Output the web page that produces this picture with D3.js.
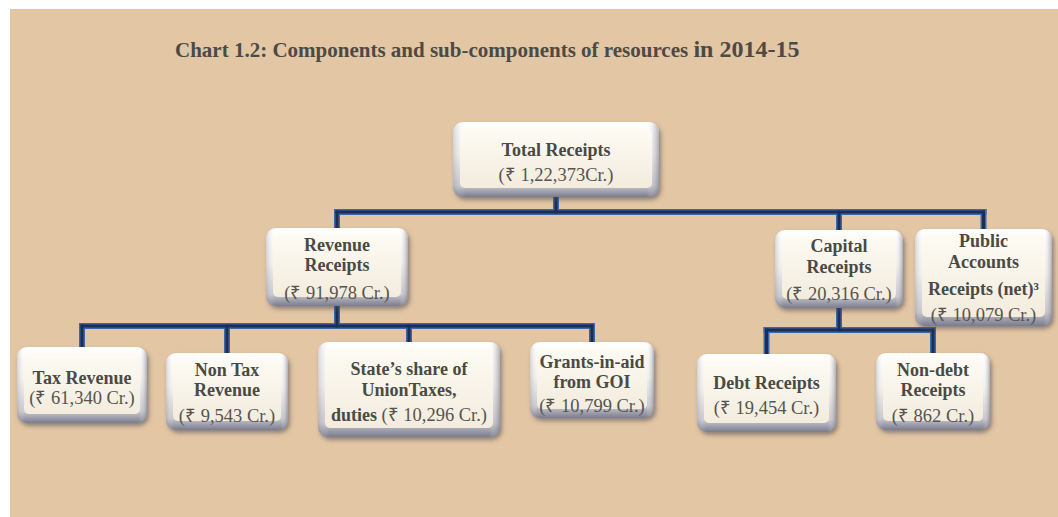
<!DOCTYPE html>
<html>
<head>
<meta charset="utf-8">
<script src="https://cdn.jsdelivr.net/npm/d3@7"></script>
<style>
  body { margin: 0; background: #fff; }
  svg { display: block; }
</style>
</head>
<body>
<div id="chart"></div>
<script>
// data
var nodeIds   = ["total", "revenue", "capital", "public", "tax", "nontax", "share", "grants", "debt", "nondebt"];
var parentIds = [null, "total", "total", "total", "revenue", "revenue", "revenue", "revenue", "capital", "capital"];
var labelLines = [
  ["Total Receipts"],
  ["Revenue", "Receipts"],
  ["Capital", "Receipts"],
  ["Public", "Accounts", "Receipts (net)\u00B3"],
  ["Tax Revenue"],
  ["Non Tax", "Revenue"],
  ["State\u2019s share of", "UnionTaxes,"],
  ["Grants-in-aid", "from GOI"],
  ["Debt Receipts"],
  ["Non-debt", "Receipts"]
];
var amountPrefix = ["", "", "", "", "", "", "duties ", "", "", ""];
var amountsCr = [122373, 91978, 20316, 10079, 61340, 9543, 10296, 10799, 19454, 862];
var title = "Chart 1.2: Components and sub-components of resources ";
var titleYear = "in 2014-15";

// layout (box edges, text baselines from box top, connector bus y)
var layout = {
  total:   { box: [453, 122, 659, 197], lines: [34, 59], bus: 212 },
  revenue: { box: [266, 228, 408, 306], lines: [23, 43, 71], bus: 326 },
  capital: { box: [775, 230, 903, 308], lines: [22, 43, 70], bus: 330 },
  public:  { box: [915, 229, 1052, 326], lines: [18, 39, 66, 92] },
  tax:     { box: [17, 347, 147, 423], lines: [37, 57] },
  nontax:  { box: [166, 353, 288, 430], lines: [23, 43, 69] },
  share:   { box: [318, 342, 500, 437], lines: [33, 54, 79] },
  grants:  { box: [530, 342, 654, 418], lines: [26, 46, 70] },
  debt:    { box: [697, 354, 836, 432], lines: [35, 60] },
  nondebt: { box: [876, 353, 990, 430], lines: [23, 43, 69] }
};

var W = 1058, H = 517;

// indian grouping: 1,22,373
function inr(n) {
  var s = String(n);
  if (s.length <= 3) return s;
  var last = s.slice(-3), rest = s.slice(0, -3);
  return rest.replace(/\B(?=(\d{2})+(?!\d))/g, ",") + "," + last;
}

var nodes = nodeIds.map(function(id, i) {
  return { id: id, parent: parentIds[i], lines: labelLines[i], prefix: amountPrefix[i],
           amount: "(\u20B9 " + inr(amountsCr[i]) + (i === 0 ? "Cr.)" : " Cr.)") };
});
var root = d3.stratify().id(function(d) { return d.id; }).parentId(function(d) { return d.parent; })(nodes);

var cx = function(n) { var b = layout[n.id].box; return (b[0] + b[2]) / 2; };

var svg = d3.select("#chart").append("svg")
  .attr("width", W)
  .attr("height", H);

var defs = svg.append("defs");
defs.append("filter").attr("id", "shadow")
  .attr("x", "-10%").attr("y", "-10%").attr("width", "125%").attr("height", "135%")
  .append("feDropShadow")
    .attr("dx", 2).attr("dy", 3).attr("stdDeviation", 2)
    .attr("flood-color", "#4a4a55").attr("flood-opacity", 0.55);

var rim = defs.append("linearGradient").attr("id", "rim").attr("x1", 0).attr("y1", 0).attr("x2", 0).attr("y2", 1);
rim.append("stop").attr("offset", "0%").attr("stop-color", "#ffffff");
rim.append("stop").attr("offset", "45%").attr("stop-color", "#f4f1ec");
rim.append("stop").attr("offset", "85%").attr("stop-color", "#c8c7cd");
rim.append("stop").attr("offset", "100%").attr("stop-color", "#7a7c8e");

var side = defs.append("linearGradient").attr("id", "side").attr("x1", 0).attr("y1", 0).attr("x2", 1).attr("y2", 0);
side.append("stop").attr("offset", "0%").attr("stop-color", "#8a8c9c").attr("stop-opacity", 0.35);
side.append("stop").attr("offset", "6%").attr("stop-color", "#ffffff").attr("stop-opacity", 0);
side.append("stop").attr("offset", "94%").attr("stop-color", "#ffffff").attr("stop-opacity", 0);
side.append("stop").attr("offset", "100%").attr("stop-color", "#6e7082").attr("stop-opacity", 0.55);

var face = defs.append("linearGradient").attr("id", "face").attr("x1", 0).attr("y1", 0).attr("x2", 0).attr("y2", 1);
face.append("stop").attr("offset", "0%").attr("stop-color", "#fdfbf4");
face.append("stop").attr("offset", "100%").attr("stop-color", "#f3ecde");

// background
svg.append("rect")
  .attr("x", 10).attr("y", 9)
  .attr("width", W - 10).attr("height", H - 9)
  .style("fill", "#e3c6a3");

// title
var t = svg.append("text")
  .attr("x", 175).attr("y", 57)
  .style("font-family", "'Liberation Serif', 'Times New Roman', serif")
  .style("font-weight", "bold")
  .style("font-size", "21px")
  .style("fill", "#4b4a46");
t.append("tspan").text(title);
t.append("tspan").style("font-size", "24px").text(titleYear);

// connectors
var links = svg.append("g");
root.descendants().filter(function(n) { return n.children; }).forEach(function(p) {
  var pb = layout[p.id].box, bus = layout[p.id].bus;
  var xs = p.children.map(cx);
  var segs = [
    [[cx(p), pb[3]], [cx(p), bus]],
    [[d3.min(xs), bus], [d3.max(xs), bus]]
  ];
  p.children.forEach(function(c) {
    segs.push([[cx(c), bus], [cx(c), layout[c.id].box[1] + 2]]);
  });
  var line = d3.line();
  segs.forEach(function(s) {
    links.append("path").attr("d", line(s))
      .style("stroke", "#3d67aa").style("stroke-width", 6).style("fill", "none").style("stroke-linecap", "square");
  });
  segs.forEach(function(s) {
    links.append("path").attr("d", line(s))
      .style("stroke", "#1c2f52").style("stroke-width", 3).style("fill", "none").style("stroke-linecap", "square");
  });
});

// boxes
var box = svg.selectAll("g.node")
  .data(root.descendants())
  .enter().append("g")
    .attr("class", "node");

box.append("rect")
  .attr("x", function(d) { return layout[d.id].box[0]; })
  .attr("y", function(d) { return layout[d.id].box[1]; })
  .attr("width", function(d) { var b = layout[d.id].box; return b[2] - b[0]; })
  .attr("height", function(d) { var b = layout[d.id].box; return b[3] - b[1]; })
  .attr("rx", 10)
  .attr("filter", "url(#shadow)")
  .style("fill", "url(#rim)");

box.append("rect")
  .attr("x", function(d) { return layout[d.id].box[0]; })
  .attr("y", function(d) { return layout[d.id].box[1]; })
  .attr("width", function(d) { var b = layout[d.id].box; return b[2] - b[0]; })
  .attr("height", function(d) { var b = layout[d.id].box; return b[3] - b[1]; })
  .attr("rx", 10)
  .style("fill", "url(#side)");

box.append("rect")
  .attr("x", function(d) { return layout[d.id].box[0] + 7; })
  .attr("y", function(d) { return layout[d.id].box[1] + 6; })
  .attr("width", function(d) { var b = layout[d.id].box; return b[2] - b[0] - 14; })
  .attr("height", function(d) { var b = layout[d.id].box; return b[3] - b[1] - 15; })
  .attr("rx", 5)
  .style("fill", "url(#face)");

var txt = box.append("text")
  .attr("text-anchor", "middle")
  .style("font-family", "'Liberation Serif', 'Times New Roman', serif")
  .style("font-size", "18px");

txt.each(function(d) {
  var el = d3.select(this), L = layout[d.id], x = cx(d);
  var ys = L.lines;
  d.data.lines.forEach(function(s, i) {
    el.append("tspan").attr("x", x).attr("y", L.box[1] + ys[i])
      .style("font-weight", "bold").style("fill", "#4a4a44").text(s);
  });
  var last = el.append("tspan").attr("x", x).attr("y", L.box[1] + ys[ys.length - 1]);
  if (d.data.prefix) {
    last.append("tspan").style("font-weight", "bold").style("fill", "#4a4a44").text(d.data.prefix);
  }
  last.append("tspan").style("fill", "#55544f").style("font-size", "18.5px").text(d.data.amount);
});
</script>
</body>
</html>
